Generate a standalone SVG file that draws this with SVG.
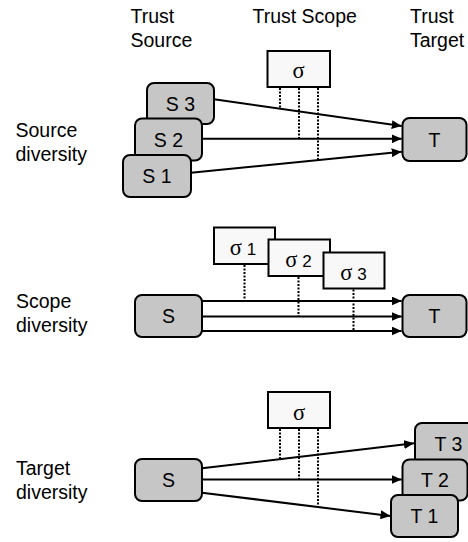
<svg xmlns="http://www.w3.org/2000/svg" width="468" height="542" viewBox="0 0 468 542">
  <style>
    .lbl { font-family: "Liberation Sans", Arial, sans-serif; font-size: 19.5px; fill: #000; }
    .nt { font-family: "Liberation Sans", Arial, sans-serif; font-size: 19.5px; fill: #000; text-anchor: middle; }
    .st { font-family: "Liberation Sans", Arial, sans-serif; font-size: 17px; fill: #000; text-anchor: middle; }
    .sig { font-family: "Liberation Serif", "Times New Roman", serif; font-size: 22.5px; }
    .node { fill: #c6c6c6; stroke: #000; stroke-width: 2; }
    .scope { fill: #f8f8f8; stroke: #000; stroke-width: 2; }
    .edge { stroke: #000; stroke-width: 2; fill: none; marker-end: url(#arrow); }
    .dot { stroke: #000; stroke-width: 2; stroke-dasharray: 2 1.5; fill: none; }
  </style>
  <defs>
    <marker id="arrow" markerUnits="userSpaceOnUse" markerWidth="11" markerHeight="9" refX="10" refY="4.5" orient="auto">
      <path d="M0,0 L10,4.5 L0,9 z" fill="#000"/>
    </marker>
  </defs>
  <rect width="468" height="542" fill="#fff"/>

  <!-- column headers -->
  <text class="lbl" x="130.5" y="23">Trust</text>
  <text class="lbl" x="130.5" y="47">Source</text>
  <text class="lbl" x="252.5" y="23">Trust Scope</text>
  <text class="lbl" x="410" y="23">Trust</text>
  <text class="lbl" x="410" y="47">Target</text>

  <!-- row labels -->
  <text class="lbl" x="15.5" y="137">Source</text>
  <text class="lbl" x="15.5" y="161">diversity</text>
  <text class="lbl" x="16" y="308">Scope</text>
  <text class="lbl" x="16" y="332">diversity</text>
  <text class="lbl" x="16" y="474.5">Target</text>
  <text class="lbl" x="16" y="498.5">diversity</text>

  <!-- source diversity -->
  <g id="scope-a">
    <rect class="scope" x="267.5" y="51" width="62.5" height="36"/>
    <text class="st" x="298.5" y="78"><tspan class="sig">σ</tspan></text>
  </g>
  <g id="s3">
    <rect class="node" x="147" y="83" width="67" height="41" rx="7"/>
    <text class="nt" x="180.5" y="110.5">S 3</text>
  </g>
  <g id="s2">
    <rect class="node" x="135" y="118.5" width="67" height="42" rx="7"/>
    <text class="nt" x="168.5" y="146.5">S 2</text>
  </g>
  <g id="s1">
    <rect class="node" x="123" y="155" width="68" height="42" rx="7"/>
    <text class="nt" x="157" y="183">S 1</text>
  </g>
  <g id="t-a">
    <rect class="node" x="402.5" y="118" width="64" height="43" rx="7"/>
    <text class="nt" x="434.5" y="146.5">T</text>
  </g>

  <!-- scope diversity -->
  <g id="s-b">
    <rect class="node" x="135" y="295" width="67" height="42" rx="7"/>
    <text class="nt" x="168.5" y="323">S</text>
  </g>
  <g id="t-b">
    <rect class="node" x="402.5" y="295" width="64" height="42" rx="7"/>
    <text class="nt" x="434.5" y="323">T</text>
  </g>
  <g id="scope-1">
    <rect class="scope" x="214" y="227.5" width="61" height="36.5"/>
    <text class="st" x="243" y="255"><tspan class="sig">σ</tspan> 1</text>
  </g>
  <g id="scope-2">
    <rect class="scope" x="268.5" y="239.5" width="61.5" height="36.5"/>
    <text class="st" x="298.5" y="267"><tspan class="sig">σ</tspan> 2</text>
  </g>
  <g id="scope-3">
    <rect class="scope" x="323.5" y="252.5" width="61" height="36"/>
    <text class="st" x="353.5" y="280"><tspan class="sig">σ</tspan> 3</text>
  </g>

  <!-- target diversity -->
  <g id="scope-c">
    <rect class="scope" x="268" y="392" width="62" height="36"/>
    <text class="st" x="299" y="419.5"><tspan class="sig">σ</tspan></text>
  </g>
  <g id="s-c">
    <rect class="node" x="135" y="459" width="67" height="42" rx="7"/>
    <text class="nt" x="168.5" y="487">S</text>
  </g>
  <g id="t3">
    <rect class="node" x="415" y="423" width="67" height="42" rx="7"/>
    <text class="nt" x="448.5" y="451">T 3</text>
  </g>
  <g id="t2">
    <rect class="node" x="402.5" y="459.5" width="65" height="41" rx="7"/>
    <text class="nt" x="435" y="487">T 2</text>
  </g>
  <g id="t1">
    <rect class="node" x="391" y="495" width="67" height="42" rx="7"/>
    <text class="nt" x="424.5" y="523">T 1</text>
  </g>

  <!-- connectors -->
  <g id="connectors">
    <line class="dot" x1="280" y1="88" x2="280" y2="108.6"/>
    <line class="dot" x1="299" y1="88" x2="299" y2="138.8"/>
    <line class="dot" x1="318" y1="88" x2="318" y2="160"/>
    <line class="edge" x1="214" y1="99.3" x2="401.7" y2="126"/>
    <line class="edge" x1="202" y1="138.8" x2="401.7" y2="138.8"/>
    <line class="edge" x1="191" y1="172.7" x2="401.7" y2="151.7"/>

    <line class="dot" x1="244.5" y1="265" x2="244.5" y2="301"/>
    <line class="dot" x1="298.5" y1="277" x2="298.5" y2="316.5"/>
    <line class="dot" x1="353.5" y1="289.5" x2="353.5" y2="331"/>
    <line class="edge" x1="202" y1="301" x2="401.7" y2="301"/>
    <line class="edge" x1="202" y1="316.5" x2="401.7" y2="316.5"/>
    <line class="edge" x1="202" y1="331" x2="401.7" y2="331"/>

    <line class="dot" x1="280" y1="429" x2="280" y2="459"/>
    <line class="dot" x1="299" y1="429" x2="299" y2="479.5"/>
    <line class="dot" x1="318" y1="429" x2="318" y2="507"/>
    <line class="edge" x1="202" y1="468.3" x2="414" y2="443.3"/>
    <line class="edge" x1="202" y1="479.5" x2="401.7" y2="479.5"/>
    <line class="edge" x1="202" y1="492.7" x2="390.5" y2="516"/>
  </g>
</svg>
